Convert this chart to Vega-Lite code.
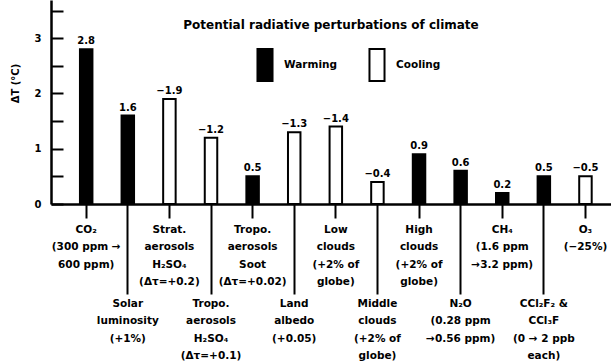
{
  "$schema": "https://vega.github.io/schema/vega-lite/v6.json",
  "autosize": "none",
  "width": 560,
  "height": 204,
  "padding": {"left": 51, "top": 0, "right": 0, "bottom": 160},
  "background": "white",
  "title": {
    "text": "Potential radiative perturbations of climate",
    "anchor": "middle",
    "frame": "group",
    "baseline": "middle",
    "offset": 0,
    "dy": 37,
    "font": "DejaVu Sans",
    "fontSize": 12,
    "fontWeight": "bold",
    "color": "black"
  },
  "data": {
    "values": [
      {"agent": "CO₂|(300 ppm →|600 ppm)", "dT": 2.8, "effect": "Warming"},
      {"agent": "Solar|luminosity|(+1%)", "dT": 1.6, "effect": "Warming"},
      {"agent": "Strat.|aerosols|H₂SO₄|(Δτ=+0.2)", "dT": -1.9, "effect": "Cooling"},
      {"agent": "Tropo.|aerosols|H₂SO₄|(Δτ=+0.1)", "dT": -1.2, "effect": "Cooling"},
      {"agent": "Tropo.|aerosols|Soot|(Δτ=+0.02)", "dT": 0.5, "effect": "Warming"},
      {"agent": "Land|albedo|(+0.05)", "dT": -1.3, "effect": "Cooling"},
      {"agent": "Low|clouds|(+2% of|globe)", "dT": -1.4, "effect": "Cooling"},
      {"agent": "Middle|clouds|(+2% of|globe)", "dT": -0.4, "effect": "Cooling"},
      {"agent": "High|clouds|(+2% of|globe)", "dT": 0.9, "effect": "Warming"},
      {"agent": "N₂O|(0.28 ppm|→0.56 ppm)", "dT": 0.6, "effect": "Warming"},
      {"agent": "CH₄|(1.6 ppm|→3.2 ppm)", "dT": 0.2, "effect": "Warming"},
      {"agent": "CCl₂F₂ &|CCl₃F|(0 → 2 ppb|each)", "dT": 0.5, "effect": "Warming"},
      {"agent": "O₃|(−25%)", "dT": -0.5, "effect": "Cooling"}
    ]
  },
  "transform": [
    {"calculate": "abs(datum.dT)", "as": "magnitude"}
  ],
  "encoding": {
    "x": {
      "field": "agent",
      "type": "nominal",
      "sort": null,
      "scale": {"paddingInner": 0.7, "paddingOuter": 0.58, "align": 0.6},
      "axis": {
        "title": null,
        "labelAngle": 0,
        "labelExpr": "split(datum.value, '|')",
        "labelLineHeight": 17.5,
        "labelFont": "DejaVu Sans",
        "labelFontWeight": "bold",
        "labelFontSize": 10.5,
        "labelColor": "black",
        "labelOverlap": false,
        "labelBound": false,
        "labelFlush": false,
        "labelBaseline": "top",
        "domainColor": "black",
        "domainWidth": 2.5,
        "tickColor": "black",
        "tickWidth": 2,
        "tickSize": {
          "condition": {"test": "indexof(['Solar', 'Land', 'Middle', 'N₂O', 'CCl₂F₂ &'], split(datum.value, '|')[0]) >= 0 || indexof(datum.value, '+0.1)') >= 0", "value": 90},
          "value": 14
        },
        "labelPadding": {
          "condition": {"test": "indexof(['Solar', 'Land', 'Middle', 'N₂O', 'CCl₂F₂ &'], split(datum.value, '|')[0]) >= 0 || indexof(datum.value, '+0.1)') >= 0", "value": 4},
          "value": 6
        }
      }
    },
    "y": {
      "field": "magnitude",
      "type": "quantitative",
      "scale": {"domain": [0, 3.69], "nice": false},
      "axis": {
        "title": "ΔT (°C)",
        "titleFont": "DejaVu Sans",
        "titleFontWeight": "bold",
        "titleFontSize": 10,
        "titleColor": "black",
        "titleX": -31,
        "titleY": 83,
        "values": [0, 0.5, 1, 1.5, 2, 2.5, 3, 3.5],
        "labelExpr": "datum.value % 1 ? '' : format(datum.value, 'd')",
        "labelFont": "DejaVu Sans",
        "labelFontWeight": "bold",
        "labelFontSize": 10,
        "labelColor": "black",
        "grid": false,
        "domainColor": "black",
        "domainWidth": 2.5,
        "ticks": true,
        "tickColor": "black",
        "tickWidth": 2,
        "tickSize": -12,
        "labelPadding": 22
      }
    }
  },
  "layer": [
    {
      "mark": {"type": "bar", "stroke": "black", "strokeWidth": 2},
      "encoding": {
        "color": {
          "field": "effect",
          "type": "nominal",
          "scale": {"domain": ["Warming", "Cooling"], "range": ["black", "white"]},
          "legend": {
            "orient": "none",
            "legendX": 197,
            "legendY": 48,
            "direction": "horizontal",
            "title": null,
            "padding": 0,
            "symbolType": "M-0.47,-1H0.47V1H-0.47Z",
            "symbolSize": 1024,
            "symbolStrokeColor": "black",
            "symbolStrokeWidth": 2,
            "symbolOpacity": 1,
            "labelFont": "DejaVu Sans",
            "labelFontWeight": "bold",
            "labelFontSize": 10.5,
            "labelColor": "black",
            "labelOffset": 2,
            "columnPadding": 22
          }
        }
      }
    },
    {
      "mark": {
        "type": "text",
        "baseline": "bottom",
        "dy": -3,
        "font": "DejaVu Sans",
        "fontWeight": "bold",
        "fontSize": 10,
        "color": "black"
      },
      "encoding": {
        "text": {"field": "dT", "type": "quantitative", "format": ".1f"}
      }
    }
  ],
  "config": {
    "view": {"stroke": null}
  }
}
